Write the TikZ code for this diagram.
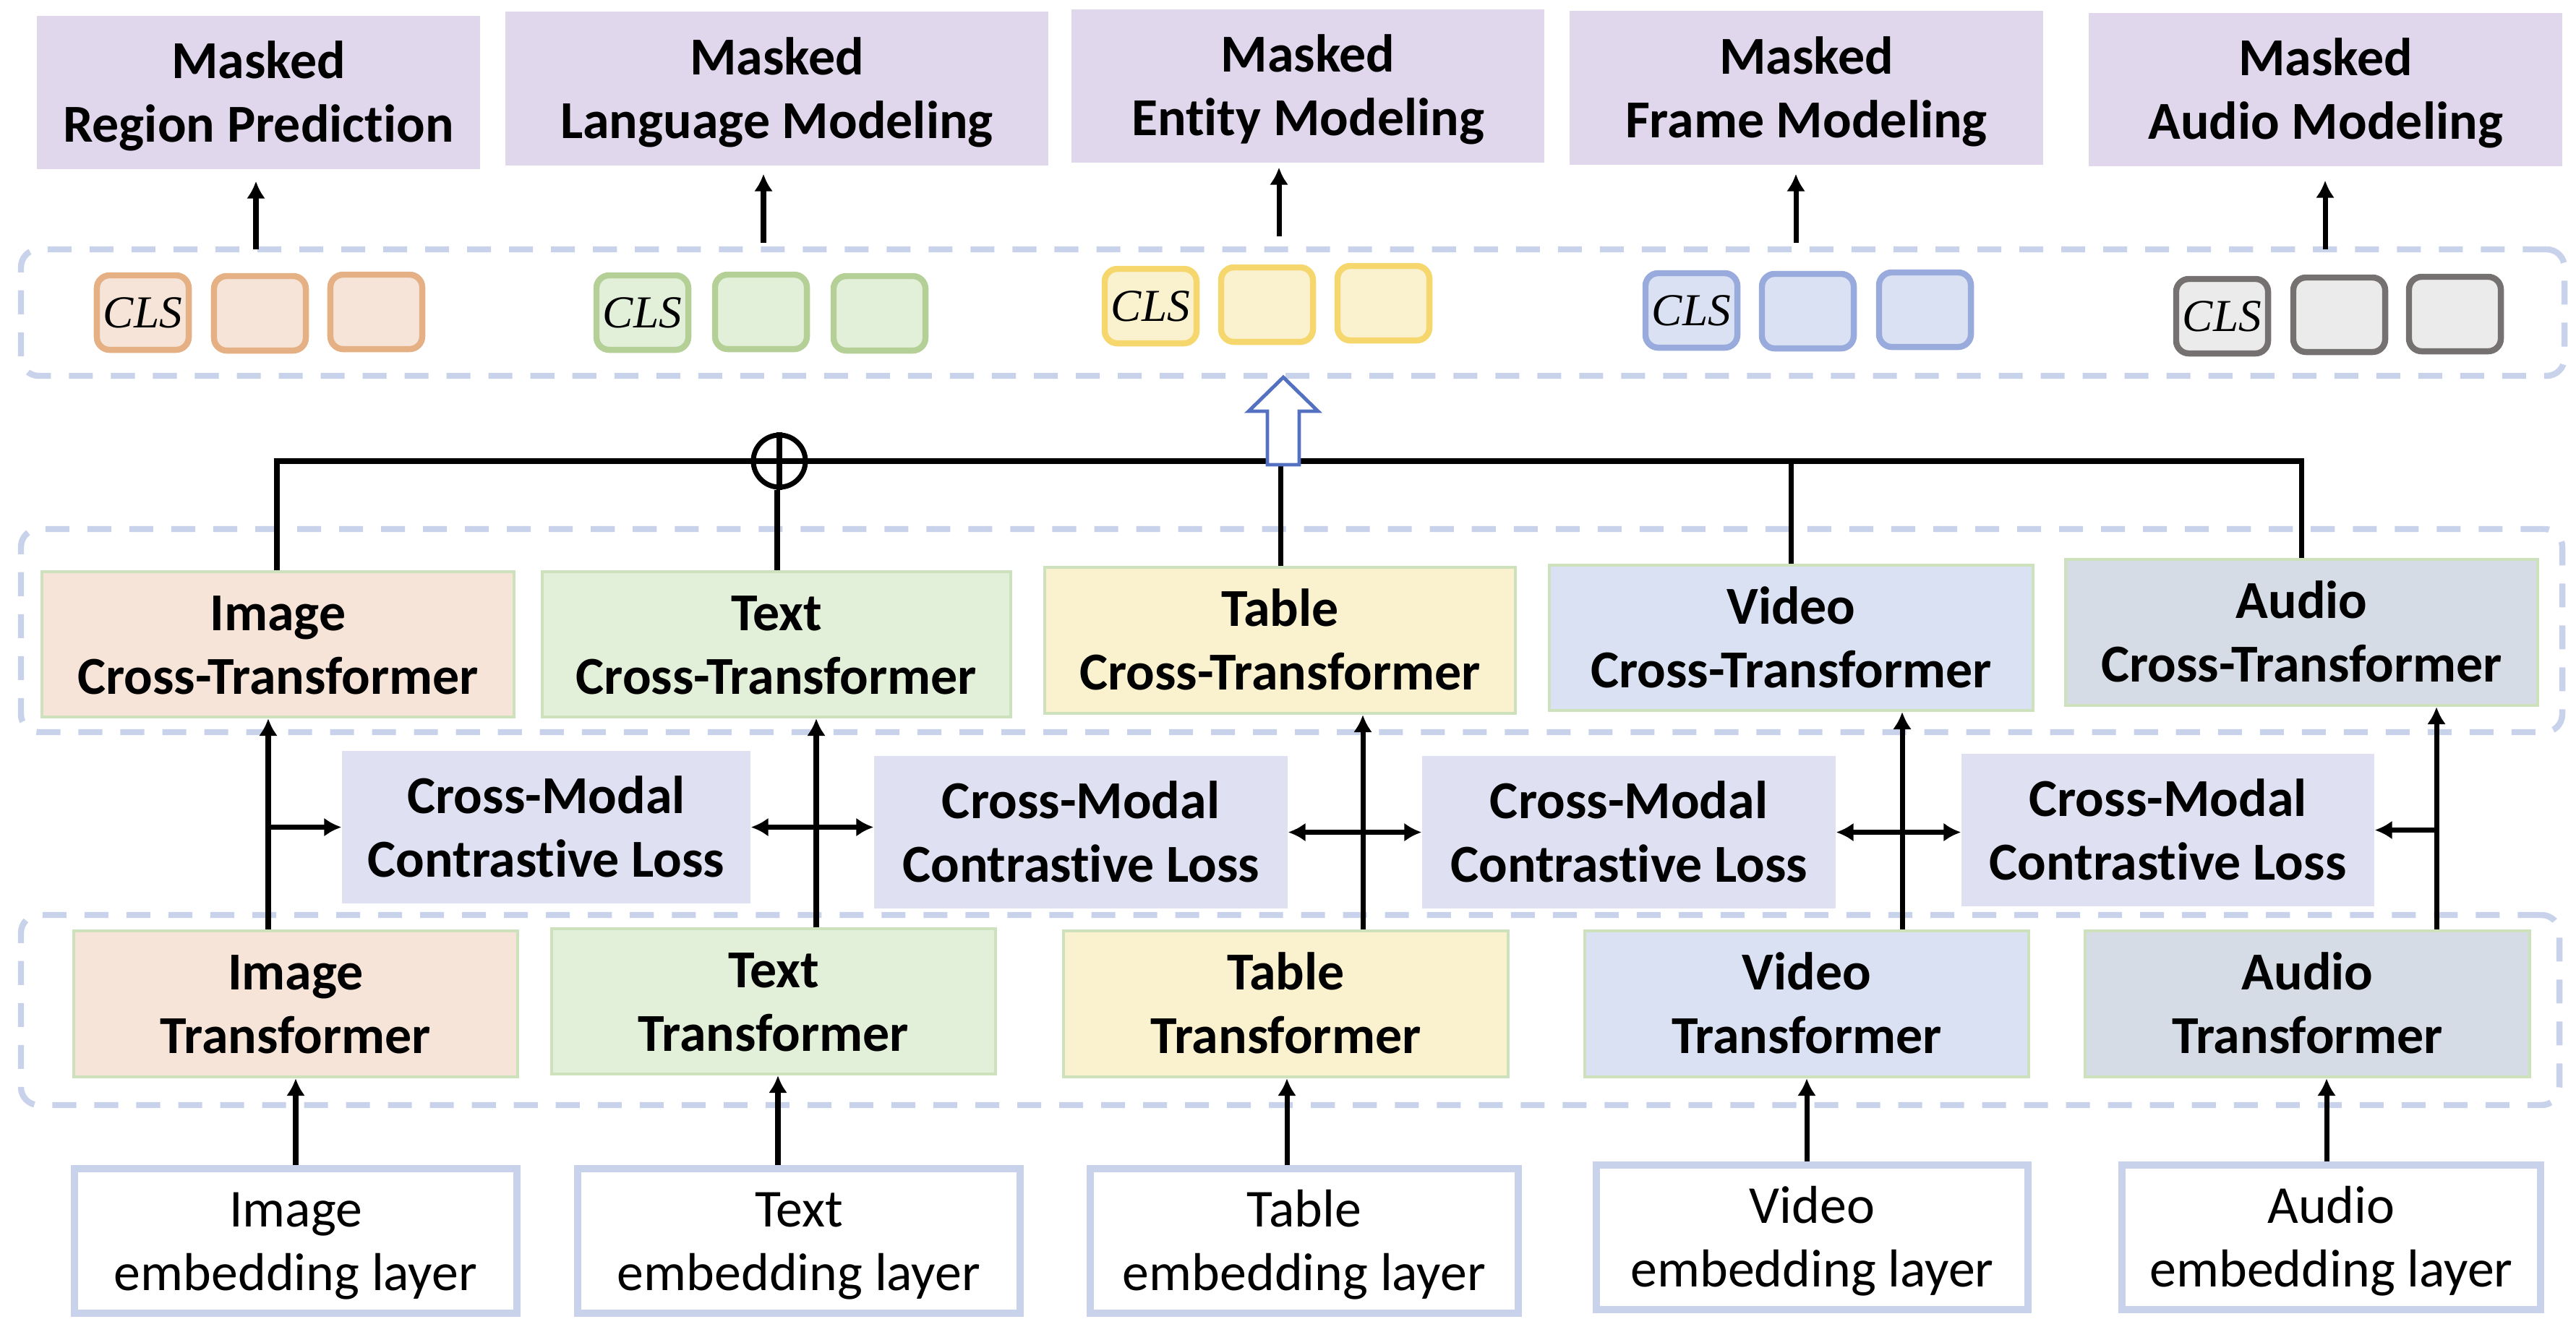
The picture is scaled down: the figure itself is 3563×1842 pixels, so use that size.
\documentclass[tikz,border=0pt]{standalone}
\usepackage{fontspec}
\setmainfont{Carlito}[Ligatures=NoCommon]
\newfontfamily\clsfont{Liberation Serif}
\usetikzlibrary{arrows.meta,calc}
\definecolor{lav}{RGB}{224,215,236}
\definecolor{ofill}{RGB}{245,228,215}
\definecolor{oline}{RGB}{228,176,132}
\definecolor{gfill}{RGB}{226,239,217}
\definecolor{gline}{RGB}{180,208,150}
\definecolor{yfill}{RGB}{250,241,206}
\definecolor{yline}{RGB}{245,215,110}
\definecolor{bfill}{RGB}{218,225,242}
\definecolor{bline}{RGB}{152,171,220}
\definecolor{afill}{RGB}{235,235,235}
\definecolor{aline}{RGB}{118,113,113}
\definecolor{actfill}{RGB}{214,220,229}
\definecolor{ctline}{RGB}{205,226,188}
\definecolor{cmfill}{RGB}{223,225,243}
\definecolor{dashc}{RGB}{200,210,235}
\definecolor{hollowc}{RGB}{84,112,192}
\newcommand\bx[7]{\node[#2, inner sep=0pt, minimum width={(#5-#3)*0.01cm}, minimum height={(#6-#4)*0.01cm}] (#1) at ({(#3+#5)/2},{(#4+#6)/2}) {#7};}
\newcommand\tok[5]{\node[tokbox, #2] (#1) at ({#3+67.5},{#4+55.5}) {#5};}
\newcommand\tl[2]{\rule{0pt}{20pt}#1\\#2\rule[-6pt]{0pt}{0pt}}
\tikzset{
  txt/.style={align=center, font=\fontsize{21}{25}\selectfont},
  btxt/.style={align=center, font=\fontsize{21}{25}\selectfont\bfseries},
  task/.style={btxt, fill=lav},
  ctbox/.style={btxt, draw=ctline, line width=1.2pt},
  cmbox/.style={btxt, fill=cmfill},
  embbox/.style={txt, draw=dashc, line width=2.8pt, fill=white},
  grpbox/.style={draw=dashc, line width=2.4pt, dash pattern=on 9.4pt off 7.1pt, rounded corners=7pt},
  tokbox/.style={inner sep=0pt, minimum width=1.27cm, minimum height=1.03cm, line width=2.4pt, rounded corners=5pt, font=\clsfont\itshape\fontsize{18}{20}\selectfont},
  conn/.style={line width=2pt, black},
  arr/.style={conn, -{Latex[length=6.8pt,width=7.4pt]}},
  darr/.style={conn, {Latex[length=6.8pt,width=7.4pt]}-{Latex[length=6.8pt,width=7.4pt]}},
  hollow/.style={draw=hollowc, line width=1.4pt, fill=white, line join=miter}
}
\begin{document}
\begin{tikzpicture}[x=0.01cm,y=-0.01cm]
\useasboundingbox (0,0) rectangle (3563,1842);
% group boxes
\bx{grpTok}{grpbox}{29}{345}{3547}{520}{}
\bx{grpCT}{grpbox}{29}{732}{3544}{1013}{}
\bx{grpT}{grpbox}{29}{1266}{3540}{1529}{}
% task boxes
\bx{T1}{task}{51}{22}{664}{234}{\tl{Masked}{Region Prediction}}
\bx{T2}{task}{699}{16}{1450}{229}{\tl{Masked}{Language Modeling}}
\bx{T3}{task}{1482}{13}{2136}{225}{\tl{Masked}{Entity Modeling}}
\bx{T4}{task}{2171}{15}{2826}{228}{\tl{Masked}{Frame Modeling}}
\bx{T5}{task}{2889}{18}{3544}{230}{\tl{Masked}{Audio Modeling}}
% tokens
\tok{O1}{draw=oline,fill=ofill}{130}{377}{CLS}
\tok{O2}{draw=oline,fill=ofill}{292}{378}{}
\tok{O3}{draw=oline,fill=ofill}{453}{376}{}
\tok{G1}{draw=gline,fill=gfill}{821}{377}{CLS}
\tok{G2}{draw=gline,fill=gfill}{985}{376}{}
\tok{G3}{draw=gline,fill=gfill}{1149}{378}{}
\tok{Y1}{draw=yline,fill=yfill}{1524}{368}{CLS}
\tok{Y2}{draw=yline,fill=yfill}{1685}{366}{}
\tok{Y3}{draw=yline,fill=yfill}{1846}{364}{}
\tok{B1}{draw=bline,fill=bfill}{2272}{374}{CLS}
\tok{B2}{draw=bline,fill=bfill}{2433}{375}{}
\tok{B3}{draw=bline,fill=bfill}{2595}{373}{}
\tok{A1}{draw=aline,fill=afill}{3006}{382}{CLS}
\tok{A2}{draw=aline,fill=afill}{3168}{380}{}
\tok{A3}{draw=aline,fill=afill}{3328}{379}{}
% arrows to tasks
\coordinate (s1) at (354,345);
\coordinate (s2) at (1056,336);
\coordinate (s3) at (1769,327);
\coordinate (s4) at (2484,336);
\coordinate (s5) at (3216,345);
\draw[arr, shorten >=0.16cm] (s1) -- (s1 |- T1.south);
\draw[arr, shorten >=0.11cm] (s2) -- (s2 |- T2.south);
\draw[arr, shorten >=0.06cm] (s3) -- (s3 |- T3.south);
\draw[arr, shorten >=0.12cm] (s4) -- (s4 |- T4.south);
\draw[arr, shorten >=0.19cm] (s5) -- (s5 |- T5.south);
% cross transformers
\bx{ICT}{ctbox, fill=ofill}{58}{791}{711}{992}{\tl{Image}{Cross-Transformer}}
\bx{TCT}{ctbox, fill=gfill}{750}{791}{1398}{992}{\tl{Text}{Cross-Transformer}}
\bx{TabCT}{ctbox, fill=yfill}{1445}{785}{2096}{987}{\tl{Table}{Cross-Transformer}}
\bx{VCT}{ctbox, fill=bfill}{2143}{782}{2812}{983}{\tl{Video}{Cross-Transformer}}
\bx{ACT}{ctbox, fill=actfill}{2857}{774}{3510}{976}{\tl{Audio}{Cross-Transformer}}
% bus
\coordinate (busL) at (383,638);
\coordinate (busR) at (3183,638);
\coordinate (xT) at (1075,638);
\coordinate (xTab) at (1771,638);
\coordinate (xV) at (2477,638);
\draw[conn] (busL |- ICT.north) -- (busL) -- (busR) -- (busR |- ACT.north);
\draw[conn] (xTab) -- (xTab |- TabCT.north);
\draw[conn] (xV) -- (xV |- VCT.north);
\node[circle, draw, line width=2pt, fill=white, minimum size=0.72cm, inner sep=0pt] (plus) at (1078,638) {};
\draw[line width=2pt] (plus.north) -- (plus.south) (plus.west) -- (plus.east);
\draw[conn] (xT |- plus.south) -- (xT |- TCT.north);
\draw[hollow] (1775,643) -- (1753,643) -- (1753,569) -- (1727,569) -- (1775,522) -- (1823,569) -- (1797,569) -- (1797,643) -- cycle;
% cross-modal
\bx{CM1}{cmbox}{473}{1039}{1038}{1250}{\tl{Cross-Modal}{Contrastive Loss}}
\bx{CM2}{cmbox}{1209}{1046}{1781}{1257}{\tl{Cross-Modal}{Contrastive Loss}}
\bx{CM3}{cmbox}{1967}{1046}{2539}{1257}{\tl{Cross-Modal}{Contrastive Loss}}
\bx{CM4}{cmbox}{2713}{1043}{3284}{1254}{\tl{Cross-Modal}{Contrastive Loss}}
% transformers
\bx{IT}{ctbox, fill=ofill}{102}{1288}{716}{1490}{\tl{Image}{Transformer}}
\bx{TT}{ctbox, fill=gfill}{763}{1285}{1377}{1486}{\tl{Text}{Transformer}}
\bx{TabT}{ctbox, fill=yfill}{1471}{1288}{2086}{1490}{\tl{Table}{Transformer}}
\bx{VT}{ctbox, fill=bfill}{2192}{1288}{2806}{1490}{\tl{Video}{Transformer}}
\bx{AT}{ctbox, fill=actfill}{2884}{1288}{3499}{1490}{\tl{Audio}{Transformer}}
% embeddings
\bx{IE}{embbox}{103}{1617}{715}{1817}{\tl{Image}{embedding layer}}
\bx{TE}{embbox}{799}{1617}{1411}{1817}{\tl{Text}{embedding layer}}
\bx{TabE}{embbox}{1508}{1617}{2100}{1817}{\tl{Table}{embedding layer}}
\bx{VE}{embbox}{2208}{1612}{2805}{1812}{\tl{Video}{embedding layer}}
\bx{AE}{embbox}{2935}{1612}{3514}{1812}{\tl{Audio}{embedding layer}}
% embedding -> transformer
\coordinate (e1) at (409,0);
\coordinate (e2) at (1076,0);
\coordinate (e3) at (1780,0);
\coordinate (e4) at (2499,0);
\coordinate (e5) at (3218,0);
\draw[arr] (e1 |- IE.north) -- (e1 |- IT.south);
\draw[arr] (e2 |- TE.north) -- (e2 |- TT.south);
\draw[arr] (e3 |- TabE.north) -- (e3 |- TabT.south);
\draw[arr] (e4 |- VE.north) -- (e4 |- VT.south);
\draw[arr] (e5 |- AE.north) -- (e5 |- AT.south);
% transformer -> cross transformer
\coordinate (c1) at (371,0);
\coordinate (c2) at (1129,0);
\coordinate (c3) at (1885,0);
\coordinate (c4) at (2631,0);
\coordinate (c5) at (3370,0);
\draw[arr] (c1 |- IT.north) -- (c1 |- ICT.south);
\draw[arr] (c2 |- TT.north) -- (c2 |- TCT.south);
\draw[arr] (c3 |- TabT.north) -- (c3 |- TabCT.south);
\draw[arr] (c4 |- VT.north) -- (c4 |- VCT.south);
\draw[arr] (c5 |- AT.north) -- (c5 |- ACT.south);
% contrastive links
\draw[arr] (c1 |- CM1.west) -- (CM1.west);
\draw[darr] (CM1.east) -- (CM1.east -| CM2.west);
\draw[darr] (CM2.east) -- (CM2.east -| CM3.west);
\draw[darr] (CM3.east) -- (CM3.east -| CM4.west);
\draw[arr] (c5 |- CM4.east) -- (CM4.east);
\end{tikzpicture}
\end{document}
